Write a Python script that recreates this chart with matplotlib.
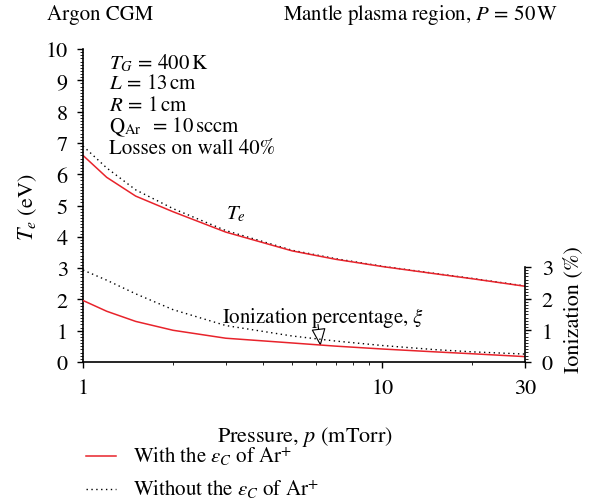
import matplotlib
matplotlib.use("Agg")
import matplotlib.pyplot as plt
from matplotlib.lines import Line2D
from matplotlib.ticker import MultipleLocator, FixedLocator, FixedFormatter, NullFormatter, LogLocator

plt.rcParams['font.family'] = ['STIXGeneral', 'DejaVu Serif']
plt.rcParams['mathtext.fontset'] = 'stix'
plt.rcParams['font.size'] = 15

# data
pressure = [1, 1.2, 1.5, 2, 3, 5, 7, 10, 15, 20, 30]
te_with = [6.6, 5.9, 5.3, 4.8, 4.15, 3.55, 3.28, 3.05, 2.82, 2.66, 2.42]
te_without = [6.9, 6.2, 5.5, 4.9, 4.2, 3.57, 3.3, 3.06, 2.83, 2.67, 2.43]
ion_with = [1.94, 1.6, 1.28, 1.0, 0.75, 0.6, 0.5, 0.41, 0.32, 0.26, 0.17]
ion_without = [2.9, 2.58, 2.15, 1.65, 1.15, 0.82, 0.66, 0.52, 0.39, 0.32, 0.25]

W, H = 592, 502
RED = '#e8232b'
fig = plt.figure(figsize=(W / 100, H / 100), dpi=100)
ax = fig.add_axes([83 / W, 1 - 363 / H, (525 - 83) / W, (363 - 50) / H])

dotted = (0, (1, 2.5))
ax.plot(pressure, te_without, color='black', lw=1, ls=dotted)
ax.plot(pressure, te_with, color=RED, lw=1.1)

ax.set_xscale('log')
ax.set_xlim(1, 30)
ax.set_ylim(0, 10)
ax.xaxis.set_major_locator(FixedLocator([1, 10, 30]))
ax.xaxis.set_major_formatter(FixedFormatter(['1', '10', '30']))
ax.xaxis.set_minor_locator(LogLocator(base=10, subs=range(2, 10)))
ax.xaxis.set_minor_formatter(NullFormatter())
ax.yaxis.set_major_locator(MultipleLocator(1))
ax.yaxis.set_minor_locator(MultipleLocator(0.1))
ax.tick_params(which='major', direction='out', length=4, width=1, labelsize=16)
ax.tick_params(axis='x', which='major', pad=8)
ax.tick_params(axis='y', which='major', pad=7)
ax.tick_params(which='minor', direction='out', length=2, width=0.6)
for s in ['top', 'right']:
    ax.spines[s].set_visible(False)
ax.spines['left'].set_linewidth(1.2)
ax.spines['bottom'].set_linewidth(1.2)

ax2 = ax.twinx()
ax2.plot(pressure, ion_without, color='black', lw=1, ls=dotted)
ax2.plot(pressure, ion_with, color=RED, lw=1.1)
ax2.set_ylim(0, 9.87)
ax2.spines['right'].set_bounds(0, 3)
ax2.spines['right'].set_linewidth(1.2)
for s in ['top', 'left', 'bottom']:
    ax2.spines[s].set_visible(False)
ax2.yaxis.set_major_locator(FixedLocator([0, 1, 2, 3]))
ax2.yaxis.set_minor_locator(FixedLocator([i / 10 for i in range(31)]))
ax2.tick_params(which='major', direction='out', length=4, width=1, labelsize=16, pad=8)
ax2.tick_params(which='minor', direction='out', length=2, width=0.6)

fig.text(28 / W, 1 - 207 / H, r'$T_e$ (eV)', rotation=90, ha='center', va='center', fontsize=16)
fig.text(573 / W, 1 - 310 / H, 'Ionization (%)', rotation=90, ha='center', va='center', fontsize=16)
fig.text(305 / W, 1 - 437 / H, r'Pressure, $p$ (mTorr)', ha='center', va='center', fontsize=16)

fig.text(47 / W, 1 - 15 / H, 'Argon CGM', ha='left', va='center', fontsize=15)
fig.text(558 / W, 1 - 15 / H, r'Mantle plasma region, $P\,=\,50\,\mathrm{W}$', ha='right', va='center', fontsize=15)

params = [r'$T_G\,=\,400\,\mathrm{K}$', r'$L\,=\,13\,\mathrm{cm}$', r'$R\,=\,1\,\mathrm{cm}$',
          r'$\mathrm{Q}_{\mathrm{Ar}}\;\;=\,10\,\mathrm{sccm}$', 'Losses on wall 40%']
for i, t in enumerate(params):
    fig.text(109 / W, 1 - (63 + i * 21.5) / H, t, ha='left', va='center', fontsize=15)

ax.text(3.25, 4.75, r'$T_e$', fontsize=15, ha='center', va='center')
ax.text(2.92, 1.45, r'Ionization percentage, $\xi$', fontsize=15, ha='left', va='center')
# open arrow head pointing at the curves
ax.annotate('', xy=(6.22, 0.51), xytext=(6.1, 1.2),
            arrowprops=dict(arrowstyle='-|>,head_width=0.45,head_length=1.1', mutation_scale=10,
                            fc='white', ec='black', lw=0.8, shrinkA=0, shrinkB=0))

# legend drawn by hand below the axes
fig.add_artist(Line2D([86 / W, 116 / W], [1 - 457 / H, 1 - 457 / H], color=RED, lw=1.1))
fig.add_artist(Line2D([86 / W, 116 / W], [1 - 490 / H, 1 - 490 / H], color='black', lw=1, ls=dotted))
fig.text(133 / W, 1 - 457 / H, r'With the $\varepsilon_C$ of Ar$^{+}$', ha='left', va='center', fontsize=15)
fig.text(133 / W, 1 - 490 / H, r'Without the $\varepsilon_C$ of Ar$^{+}$', ha='left', va='center', fontsize=15)

fig.savefig('out.png', dpi=100)
